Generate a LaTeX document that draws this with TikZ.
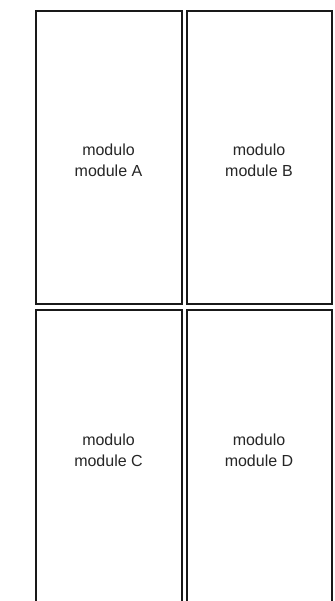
\documentclass[tikz,border=0pt]{standalone}
\usepackage{fontspec}
\setmainfont{Liberation Sans}
\begin{document}
\begin{tikzpicture}[x=1pt,y=-1pt,
  modbox/.style={draw=black!90,line width=2pt,fill=white},
  modlabel/.style={align=center,font=\fontsize{16}{21}\selectfont,text=black!85}]
\useasboundingbox (0,0) rectangle (334,601);
\begin{scope}
\clip (0,0) rectangle (334,601);
\draw[modbox] (36,11.5) rectangle (181.5,303.5);
\draw[modbox] (186.5,11.5) rectangle (332,303.5);
\draw[modbox] (36,309.5) rectangle (181.5,620);
\draw[modbox] (186.5,309.5) rectangle (332,620);
\end{scope}
\node[modlabel] (a) at (108.5,160) {modulo\\module A};
\node[modlabel] (b) at (259,160) {modulo\\module B};
\node[modlabel] (c) at (108.5,450) {modulo\\module C};
\node[modlabel] (d) at (259,450) {modulo\\module D};
\end{tikzpicture}
\end{document}
